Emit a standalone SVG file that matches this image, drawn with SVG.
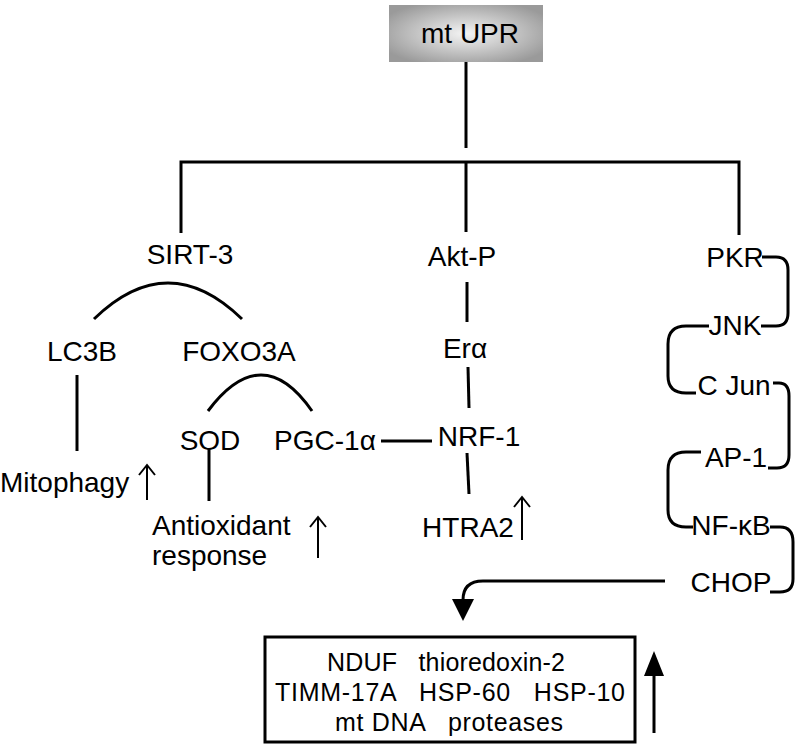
<svg xmlns="http://www.w3.org/2000/svg" width="799" height="745" viewBox="0 0 799 745">
<defs>
<radialGradient id="g" cx="50%" cy="50%" r="60%">
<stop offset="0" stop-color="#f4f4f4"/>
<stop offset="1" stop-color="#9a9a9a"/>
</radialGradient>
</defs>
<style>
text{font-family:"Liberation Sans",Arial,sans-serif;font-size:28px;fill:#000}
.m{text-anchor:middle}
.b{font-size:25px}
.c{fill:none;stroke:#000;stroke-width:3}
.o{fill:none;stroke:#000;stroke-width:2}
.h{fill:#000}
</style>
<g id="connectors">
<path class="c" d="M466,62 V148"/>
<path class="c" d="M181,233 V162 H739 V235 M466,162 V232"/>
<path class="c" d="M94,319 Q168,247 242,319"/>
<path class="c" d="M208,411 Q262,339 312,411"/>
<path class="c" d="M77,375 V451"/>
<path class="c" d="M209,448 V501"/>
<path class="c" d="M467,282 V322"/>
<path class="c" d="M468,367 L469,408"/>
<path class="c" d="M381,441 H432"/>
<path class="c" d="M467,453 L469,494"/>
<path class="c" d="M762,257 H776 Q788,257 788,270 V313 Q788,326 776,326 H761"/>
<path class="c" d="M709,326 H686 Q668,326 668,344 V376 Q668,393 686,393 H696"/>
<path class="c" d="M773,383 H779 Q789,383 789,396 V455 Q789,468 777,468 H768"/>
<path class="c" d="M701,452 H686 Q668,452 668,470 V510 Q668,527 686,527 H693"/>
<path class="c" d="M770,527 H780 Q793,527 793,542 V579 Q793,592 780,592 H770"/>
<path class="c" d="M665,581 H483 Q463,581 463,600"/>
<path class="h" d="M452,599 L474,599 L463,621 Z"/>
<path class="c" d="M654,733 V672"/>
<path class="h" d="M644,676 L664,676 L654,651 Z"/>
<path class="o" d="M147,500 V465 M139,475 L147,465 L155,475"/>
<path class="o" d="M318,558 V517 M310,527 L318,517 L326,527"/>
<path class="o" d="M522,540 V497 M514,507 L522,497 L530,507"/>
</g>
<g id="mtupr"><rect x="389" y="5" width="154" height="57" fill="url(#g)"/><text class="m" x="470" y="43">mt UPR</text></g>
<g id="sirt3"><text class="m" x="190" y="264">SIRT-3</text></g>
<g id="aktp"><text class="m" x="462" y="266">Akt-P</text></g>
<g id="pkr"><text class="m" x="735" y="267">PKR</text></g>
<g id="lc3b"><text class="m" x="82" y="361">LC3B</text></g>
<g id="foxo3a"><text class="m" x="239" y="361">FOXO3A</text></g>
<g id="era"><text class="m" x="465" y="358">Erα</text></g>
<g id="sod"><text class="m" x="210" y="450">SOD</text></g>
<g id="pgc"><text class="m" x="325" y="450">PGC-1α</text></g>
<g id="nrf1"><text class="m" x="479" y="446">NRF-1</text></g>
<g id="mitophagy"><text x="0" y="492">Mitophagy</text></g>
<g id="antiox"><text x="152" y="535">Antioxidant</text><text x="152" y="565">response</text></g>
<g id="htra2"><text class="m" x="468" y="537">HTRA2</text></g>
<g id="jnk"><text class="m" x="735" y="335">JNK</text></g>
<g id="cjun"><text class="m" x="734" y="395">C Jun</text></g>
<g id="ap1"><text class="m" x="736" y="467">AP-1</text></g>
<g id="nfkb"><text class="m" x="731" y="535">NF-κB</text></g>
<g id="chop"><text class="m" x="731" y="592">CHOP</text></g>
<g id="targets"><rect x="265" y="637" width="370" height="105" fill="#fff" stroke="#000" stroke-width="3"/>
<text class="m b" x="446" y="671" textLength="238" lengthAdjust="spacing" xml:space="preserve">NDUF   thioredoxin-2</text>
<text class="m b" x="450" y="701" textLength="350" lengthAdjust="spacing" xml:space="preserve">TIMM-17A   HSP-60   HSP-10</text>
<text class="m b" x="449" y="731" textLength="228" lengthAdjust="spacing" xml:space="preserve">mt DNA   proteases</text></g>
</svg>
